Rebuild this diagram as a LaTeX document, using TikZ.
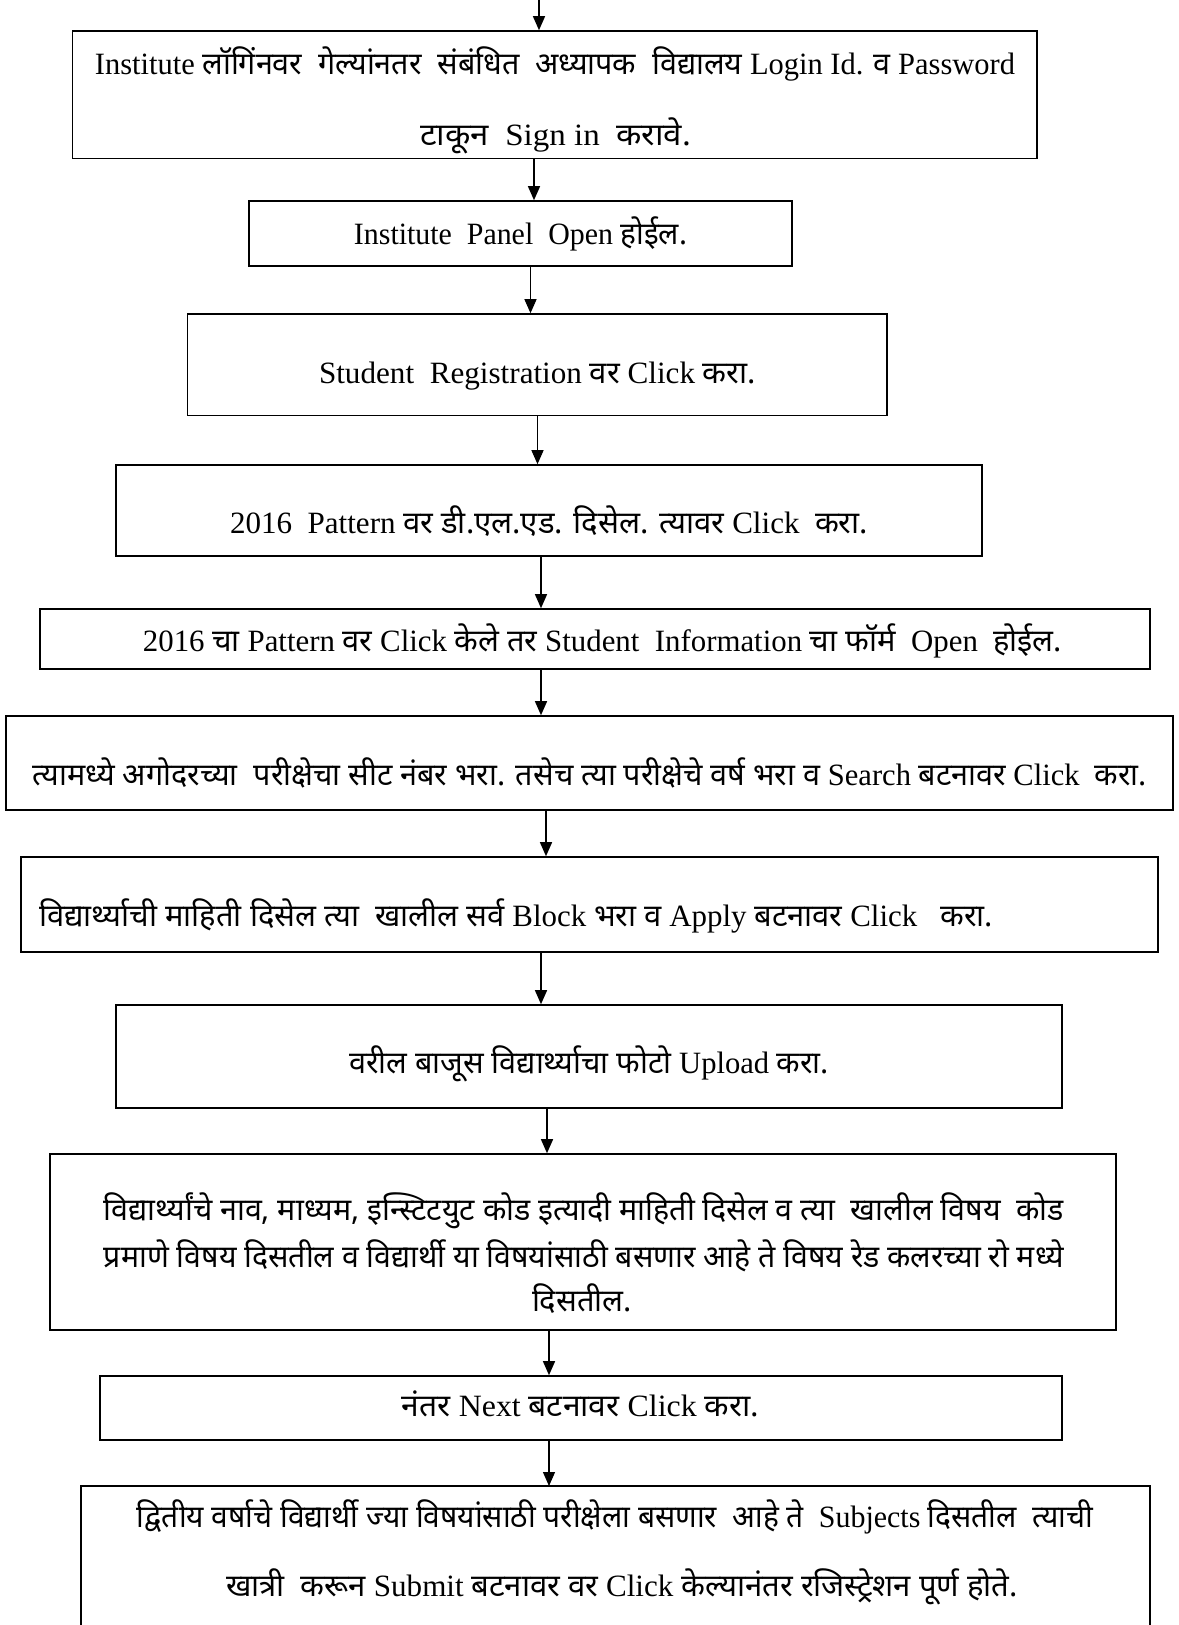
\documentclass[tikz,border=0pt]{standalone}
\usepackage{fontspec}
\usepackage{graphicx}
\setmainfont{Liberation Serif}
\newfontfamily\dvfont[Script=Devanagari]{Noto Sans}
\usetikzlibrary{arrows.meta}
\newcommand\D[1]{{\dvfont #1}}
\newcommand\fitw[2]{\resizebox{#1pt}{\height}{#2}}
\begin{document}
\begin{tikzpicture}[x=1pt,y=-1pt,
  box/.style={draw, line width=1.6pt, inner sep=0pt},
  txt/.style={inner sep=0pt, anchor=base, font=\fontsize{31}{38}\selectfont},
  arr/.style={line width=1.3pt, -{Triangle[length=14pt,width=12pt]}}]
\useasboundingbox (0,0) rectangle (1178,1625);
\fill[white] (0,0) rectangle (1178,1625);

% boxes
\node[box, minimum width=964.5, minimum height=127.5] (b1) at (554.75,94.75) {};
\node[box, minimum width=543, minimum height=65] (b2) at (520.5,233.5) {};
\node[box, minimum width=699.5, minimum height=101.5] (b3) at (537.25,364.75) {};
\node[box, minimum width=866, minimum height=91] (b4) at (549,510.5) {};
\node[box, minimum width=1110, minimum height=60] (b5) at (595,639) {};
\node[box, minimum width=1167, minimum height=94] (b6) at (589.5,763) {};
\node[box, minimum width=1137, minimum height=95] (b7) at (589.5,904.5) {};
\node[box, minimum width=946, minimum height=103] (b8) at (589,1056.5) {};
\node[box, minimum width=1066, minimum height=176] (b9) at (583,1242) {};
\node[box, minimum width=961.5, minimum height=64] (b10) at (581,1408) {};
\node[inner sep=0pt, minimum width=1069, minimum height=180, anchor=north] (b11) at (615.5,1486) {};
\draw[line width=1.6pt] (b11.south west) -- (b11.north west) -- (b11.north east) -- (b11.south east);

% texts
\node[txt] (t1a) at (555,74) {\fitw{920}{Institute \D{लॉगिंनवर\ \ गेल्यांनतर\ \ संबंधित\ \ अध्यापक\ \ विद्यालय} Login Id. \D{व} Password}};
\node[txt] (t1b) at (555.5,145) {\fitw{271}{\D{टाकून}\ \ Sign in\ \ \D{करावे.}}};
\node[txt] (t2) at (520.5,244) {\fitw{333}{Institute\ \ Panel\ \ Open \D{होईल.}}};
\node[txt] (t3) at (537.5,383) {\fitw{437}{Student\ \ Registration \D{वर} Click \D{करा.}}};
\node[txt] (t4) at (549,533) {\fitw{638}{2016\ \ Pattern \D{वर डी.एल.एड. दिसेल. त्यावर} Click\ \ \D{करा.}}};
\node[txt] (t5) at (602.5,651) {\fitw{919}{2016 \D{चा} Pattern \D{वर} Click \D{केले तर} Student\ \ Information \D{चा फॉर्म}\ \ Open\ \ \D{होईल.}}};
\node[txt] (t6) at (590,785) {\fitw{1114}{\D{त्यामध्ये अगोदरच्या\ \ परीक्षेचा सीट नंबर भरा. तसेच त्या परीक्षेचे वर्ष भरा व} Search \D{बटनावर} Click\ \ \D{करा.}}};
\node[txt, anchor=base west] (t7) at (39,926) {\fitw{954}{\D{विद्यार्थ्याची माहिती दिसेल त्या\ \ खालील सर्व} Block \D{भरा व} Apply \D{बटनावर} Click\ \ \ \D{करा.}}};
\node[txt] (t8) at (589,1073) {\fitw{480}{\D{वरील बाजूस विद्यार्थ्याचा फोटो} Upload \D{करा.}}};
\node[txt] (t9a) at (584,1220) {\fitw{960}{\D{विद्यार्थ्यांचे नाव, माध्यम, इन्स्टिटयुट कोड इत्यादी माहिती दिसेल व त्या\ \ खालील विषय\ \ कोड}}};
\node[txt] (t9b) at (584,1267) {\fitw{960}{\D{प्रमाणे विषय दिसतील व विद्यार्थी या विषयांसाठी बसणार आहे ते विषय रेड कलरच्या रो मध्ये}}};
\node[txt] (t9c) at (582,1311) {\fitw{100}{\D{दिसतील.}}};
\node[txt] (t10) at (580.5,1416) {\fitw{357}{\D{नंतर} Next \D{बटनावर} Click \D{करा.}}};
\node[txt] (t11a) at (615,1527) {\fitw{956}{\D{द्वितीय वर्षाचे विद्यार्थी ज्या विषयांसाठी परीक्षेला बसणार\ \ आहे ते}\ \ Subjects \D{दिसतील\ \ त्याची}}};
\node[txt] (t11b) at (622,1596) {\fitw{792}{\D{खात्री\ \ करून} Submit \D{बटनावर वर} Click \D{केल्यानंतर रजिस्ट्रेशन पूर्ण होते.}}};

% connectors
\coordinate (top) at (539,0);
\coordinate (x1) at (534,0);
\coordinate (x2) at (530.5,0);
\coordinate (x3) at (537.5,0);
\coordinate (x4) at (541,0);
\coordinate (x5) at (541,0);
\coordinate (x6) at (546,0);
\coordinate (x7) at (541,0);
\coordinate (x8) at (547,0);
\coordinate (x9) at (549,0);
\coordinate (x10) at (549,0);
\draw[arr] (top) -- (top |- b1.north);
\draw[arr] (x1 |- b1.south) -- (x1 |- b2.north);
\draw[arr] (x2 |- b2.south) -- (x2 |- b3.north);
\draw[arr] (x3 |- b3.south) -- (x3 |- b4.north);
\draw[arr] (x4 |- b4.south) -- (x4 |- b5.north);
\draw[arr] (x5 |- b5.south) -- (x5 |- b6.north);
\draw[arr] (x6 |- b6.south) -- (x6 |- b7.north);
\draw[arr] (x7 |- b7.south) -- (x7 |- b8.north);
\draw[arr] (x8 |- b8.south) -- (x8 |- b9.north);
\draw[arr] (x9 |- b9.south) -- (x9 |- b10.north);
\draw[arr] (x10 |- b10.south) -- (x10 |- b11.north);
\end{tikzpicture}
\end{document}
